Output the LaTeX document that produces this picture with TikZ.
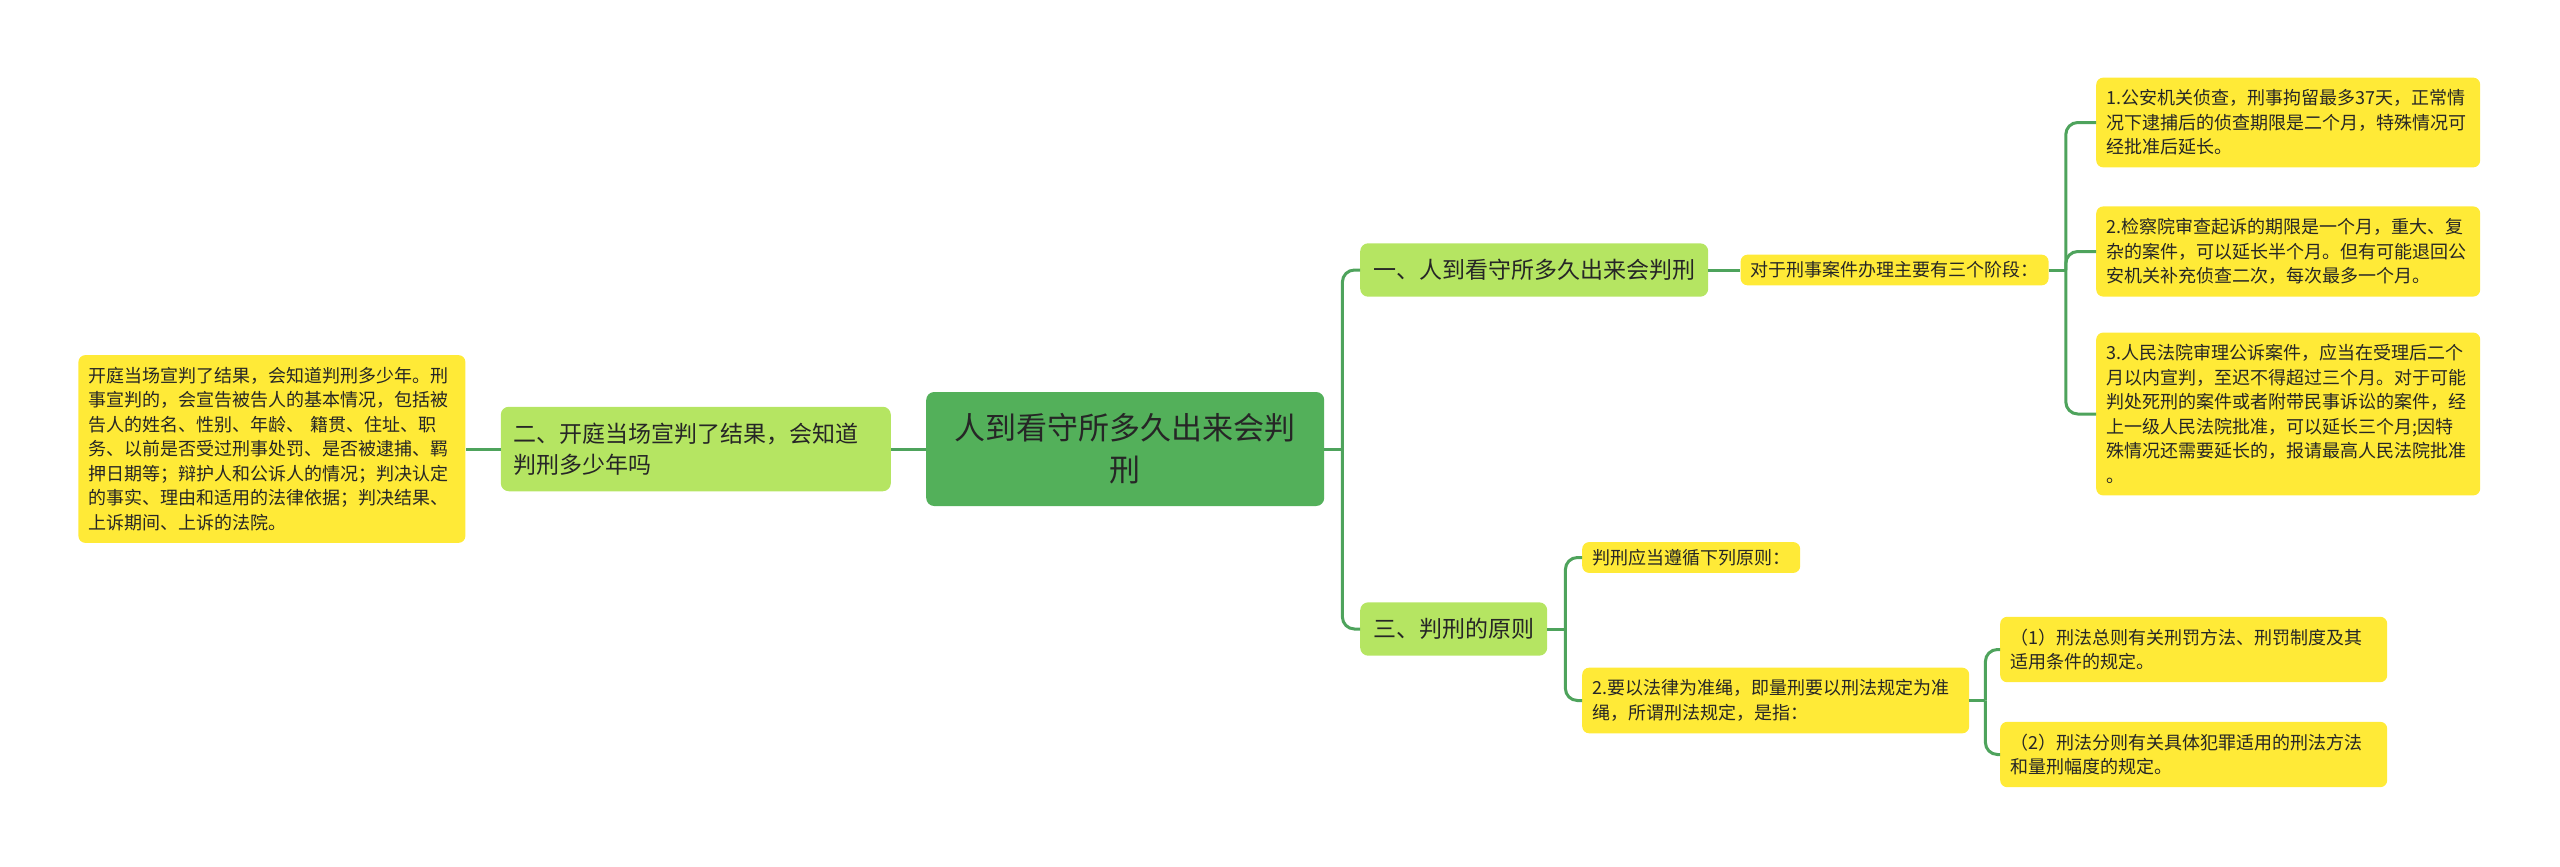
\documentclass[tikz,border=0pt]{standalone}
\usepackage{fontspec}
\usepackage{tikz}
\usetikzlibrary{positioning,calc}
\newfontfamily\cjk{Noto Sans CJK SC}
\definecolor{rootgreen}{RGB}{83,176,90}
\definecolor{branchgreen}{RGB}{181,229,98}
\definecolor{leafyellow}{RGB}{255,234,55}
\definecolor{linkgreen}{RGB}{78,163,92}
\definecolor{textgray}{RGB}{38,38,38}

\begin{document}
\begin{tikzpicture}[x=1pt, y=-1pt,
  root/.style={
    rectangle, fill=rootgreen, rounded corners=8pt,
    minimum width=398pt, minimum height=114pt, text width=370pt,
    font=\cjk\fontsize{31pt}{42pt}\selectfont, text=textgray, align=center},
  branch/.style={
    rectangle, fill=branchgreen, rounded corners=8pt,
    inner xsep=13pt, inner ysep=16pt,
    font=\cjk\fontsize{23pt}{31pt}\selectfont, text=textgray, align=left},
  leaf/.style={
    rectangle, fill=leafyellow, rounded corners=7pt,
    inner xsep=10pt, inner ysep=12pt,
    font=\cjk\fontsize{18pt}{24.5pt}\selectfont, text=textgray, align=left},
  oneline/.style={inner ysep=7pt},
  link/.style={draw=linkgreen, line width=3pt}
]
  \useasboundingbox (0,0) rectangle (2560,867);

  % centre
  \node[root, anchor=west](root) at (926,449){人到看守所多久出来会判\\刑};

  % left side
  \node[branch, text width=364pt, left=35pt of root](lb){二、开庭当场宣判了结果，会知道\\判刑多少年吗};
  \node[leaf, text width=367pt, left=35pt of lb](ll){开庭当场宣判了结果，会知道判刑多少年。刑\\
    事宣判的，会宣告被告人的基本情况，包括被\\告人的姓名、性别、年龄、 籍贯、住址、职\\
    务、以前是否受过刑事处罚、是否被逮捕、羁\\押日期等；辩护人和公诉人的情况；判决认定\\
    的事实、理由和适用的法律依据；判决结果、\\上诉期间、上诉的法院。};

  % right side, part one
  \node[branch, anchor=west](b1) at (1360,270){一、人到看守所多久出来会判刑};
  \node[leaf, oneline, right=32pt of b1](s1){对于刑事案件办理主要有三个阶段：};
  \node[leaf, text width=364pt, anchor=west](l1) at (2096,122.5){1.公安机关侦查，刑事拘留最多37天，正常情\\
    况下逮捕后的侦查期限是二个月，特殊情况可\\经批准后延长。};
  \node[leaf, text width=364pt, anchor=west](l2) at (2096,251.5){2.检察院审查起诉的期限是一个月，重大、复\\
    杂的案件，可以延长半个月。但有可能退回公\\安机关补充侦查二次，每次最多一个月。};
  \node[leaf, text width=364pt, anchor=west](l3) at (2096,414){3.人民法院审理公诉案件，应当在受理后二个\\
    月以内宣判，至迟不得超过三个月。对于可能\\判处死刑的案件或者附带民事诉讼的案件，经\\
    上一级人民法院批准，可以延长三个月;因特\\殊情况还需要延长的，报请最高人民法院批准\\。};

  % right side, part three
  \node[branch, anchor=west](b3) at (1360,629){三、判刑的原则};
  \node[leaf, oneline, anchor=west](s2) at (1582,557.5){判刑应当遵循下列原则：};
  \node[leaf, text width=367pt, anchor=west](s3) at (1582,700.5){2.要以法律为准绳，即量刑要以刑法规定为准\\
    绳，所谓刑法规定，是指：};
  \node[leaf, text width=367pt, anchor=west](l4) at (2000,649.5){（1）刑法总则有关刑罚方法、刑罚制度及其\\适用条件的规定。};
  \node[leaf, text width=367pt, anchor=west](l5) at (2000,754.5){（2）刑法分则有关具体犯罪适用的刑法方法\\和量刑幅度的规定。};

  % connectors
  \coordinate (root-bus) at ($(root.east)+(18,0)$);
  \coordinate (s1-bus) at ($(s1.east)+(17,0)$);
  \coordinate (b3-bus) at ($(b3.east)+(18,0)$);
  \coordinate (s3-bus) at ($(s3.east)+(16,0)$);
  \draw[link](root.west)--(lb.east);
  \draw[link](lb.west)--(ll.east);
  \draw[link](b1.east)--(s1.west);
  \draw[link](root.east)--(root-bus);
  \draw[link](s1.east)--(s1-bus);
  \draw[link](b3.east)--(b3-bus);
  \draw[link](s3.east)--(s3-bus);
  \foreach \kid in {b1,b3}
    \draw[link, rounded corners=12pt](root-bus)|-(\kid.west);
  \foreach \kid in {l1,l2,l3}
    \draw[link, rounded corners=12pt](s1-bus)|-(\kid.west);
  \foreach \kid in {s2,s3}
    \draw[link, rounded corners=12pt](b3-bus)|-(\kid.west);
  \foreach \kid in {l4,l5}
    \draw[link, rounded corners=12pt](s3-bus)|-(\kid.west);
\end{tikzpicture}
\end{document}
